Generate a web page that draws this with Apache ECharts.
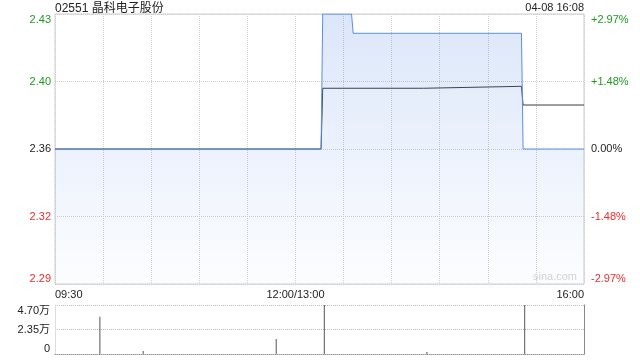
<!DOCTYPE html>
<html>
<head>
<meta charset="utf-8">
<script src="https://cdn.jsdelivr.net/npm/echarts@6/dist/echarts.min.js"></script>
<style>
html,body{margin:0;padding:0;background:#fff;}
#chart{width:640px;height:360px;}
</style>
</head>
<body>
<div id="chart"></div>
<script>
// ---- data ----
const titleText = '02551 晶科电子股份';
const stampText = '04-08 16:08';
const xTickTimes = ['09:30', '12:00', '16:00'];
const xTickLabels = ['09:30', '12:00/13:00', '16:00'];
const priceTimes = ['09:30', '13:16', '13:17', '13:35', '13:36', '15:21', '15:22', '16:00'];
const priceValues = [2.36, 2.36, 2.43, 2.43, 2.42, 2.42, 2.36, 2.36];
const avgTimes = ['09:30', '13:16', '13:17', '14:20', '14:21', '15:21', '15:22', '16:00'];
const avgValues = [2.36, 2.36, 2.3915, 2.3915, 2.3925, 2.3925, 2.3828, 2.3828];
const volTimes = ['09:58', '10:25', '11:48', '13:18', '14:22', '15:23'];
const volValues = [35800, 2900, 14400, 47000, 1900, 47000];
const yLeftLabels = ['2.29', '2.32', '2.36', '2.40', '2.43'];
const yLeftColors = ['r', 'r', 'k', 'g', 'g'];
const yRightLabels = ['-2.97%', '-1.48%', '0.00%', '+1.48%', '+2.97%'];
const volLabels = ['0', '2.35万', '4.70万'];

// ---- helpers ----
function minuteIndex(t) {
  const p = t.split(':');
  let m = parseInt(p[0], 10) * 60 + parseInt(p[1], 10) - 570;
  if (m > 150) m = m >= 210 ? m - 60 : 150;
  return m;
}
const xTickMap = {};
xTickTimes.forEach((t, i) => { xTickMap[minuteIndex(t)] = xTickLabels[i]; });
const pricePts = priceTimes.map((t, i) => [minuteIndex(t), priceValues[i]]);
const avgPts = avgTimes.map((t, i) => [minuteIndex(t), avgValues[i]]);
const volPts = volTimes.map((t, i) => [minuteIndex(t), volValues[i]]);

const FONT = '"Liberation Sans", Arial, sans-serif';
const CJK = '"Liberation Sans", "Noto Sans CJK SC", sans-serif';
const rich = {
  g: { color: '#1e9a1e', fontSize: 11, fontFamily: FONT },
  r: { color: '#ee2b2b', fontSize: 11, fontFamily: FONT },
  k: { color: '#222', fontSize: 11, fontFamily: FONT }
};

const chart = echarts.init(document.getElementById('chart'), null, { renderer: 'canvas' });
chart.setOption({
  animation: false,
  backgroundColor: '#fff',
  graphic: [
    { type: 'text', left: 55, top: 3, style: { text: titleText, fill: '#222', font: '12px ' + CJK } },
    { type: 'text', right: 56, top: 2, style: { text: stampText, fill: '#222', font: '11px ' + FONT } },
    { type: 'text', left: 533, top: 271, z: 1, style: { text: 'sina.com', fill: '#d4d4d4', font: '11px ' + FONT } }
  ],
  grid: [
    { left: 55, right: 56, top: 14, bottom: 76, show: true, borderColor: '#cccccc', borderWidth: 1, backgroundColor: 'transparent' },
    { left: 55, right: 56, top: 305, bottom: 6, show: false }
  ],
  xAxis: [
    {
      type: 'value', gridIndex: 0, min: 0, max: 330, interval: 30,
      axisLine: { show: false }, axisTick: { show: false },
      splitLine: { show: true, lineStyle: { color: '#d0d0d0', type: 'dotted', width: 1 } },
      axisLabel: {
        margin: 5, color: '#222', fontSize: 11, fontFamily: FONT,
        alignMinLabel: 'left', alignMaxLabel: 'right', hideOverlap: false,
        formatter: v => (xTickMap[v] !== undefined ? xTickMap[v] : '')
      }
    },
    {
      type: 'value', gridIndex: 1, min: 0, max: 330, interval: 30,
      axisLine: { show: true, lineStyle: { color: '#999', type: 'dotted', width: 1 } },
      axisTick: { show: false }, axisLabel: { show: false }, splitLine: { show: false }
    }
  ],
  yAxis: [
    {
      type: 'value', gridIndex: 0, min: 2.29, max: 2.43, interval: 0.035, position: 'left',
      axisLine: { show: false }, axisTick: { show: false },
      splitLine: { show: true, lineStyle: { color: '#d0d0d0', type: 'dotted', width: 1 } },
      axisLabel: {
        margin: 4, fontSize: 11, fontFamily: FONT, rich: rich,
        verticalAlignMinLabel: 'bottom', verticalAlignMaxLabel: 'top',
        formatter: (v, i) => '{' + yLeftColors[i] + '|' + yLeftLabels[i] + '}'
      }
    },
    {
      type: 'value', gridIndex: 0, min: 2.29, max: 2.43, interval: 0.035, position: 'right',
      axisLine: { show: false }, axisTick: { show: false }, splitLine: { show: false },
      axisLabel: {
        margin: 7, fontSize: 11, fontFamily: FONT, rich: rich,
        verticalAlignMinLabel: 'bottom', verticalAlignMaxLabel: 'top',
        formatter: (v, i) => '{' + yLeftColors[i] + '|' + yRightLabels[i] + '}'
      }
    },
    {
      type: 'value', gridIndex: 1, min: 0, max: 47000, interval: 23500, position: 'left',
      axisLine: { show: true, lineStyle: { color: '#dddddd', width: 1 } }, axisTick: { show: false },
      splitLine: { show: true, lineStyle: { color: '#bbbbbb', type: 'dotted', width: 1 } },
      axisLabel: {
        margin: 5, color: '#222', fontSize: 11, fontFamily: CJK,
        verticalAlignMinLabel: 'bottom', verticalAlignMaxLabel: 'top',
        formatter: (v, i) => volLabels[i]
      }
    },
    {
      type: 'value', gridIndex: 1, min: 0, max: 47000, interval: 23500, position: 'right',
      axisLine: { show: true, lineStyle: { color: '#888888', width: 1 } }, axisTick: { show: false },
      splitLine: { show: false }, axisLabel: { show: false }
    }
  ],
  series: [
    {
      type: 'line', xAxisIndex: 0, yAxisIndex: 0, data: avgPts, symbol: 'none', z: 3,
      lineStyle: { color: '#3a3a3a', width: 1 }
    },
    {
      type: 'line', xAxisIndex: 0, yAxisIndex: 0, data: pricePts, symbol: 'none', z: 4,
      lineStyle: { color: '#5b8ee6', width: 1 },
      areaStyle: {
        color: new echarts.graphic.LinearGradient(0, 0, 0, 1, [
          { offset: 0, color: 'rgba(60,120,225,0.26)' },
          { offset: 1, color: 'rgba(60,120,225,0.02)' }
        ])
      }
    },
    {
      type: 'bar', xAxisIndex: 1, yAxisIndex: 2, data: volPts, barWidth: 1,
      itemStyle: { color: '#555555' }
    }
  ]
});
</script>
</body>
</html>
